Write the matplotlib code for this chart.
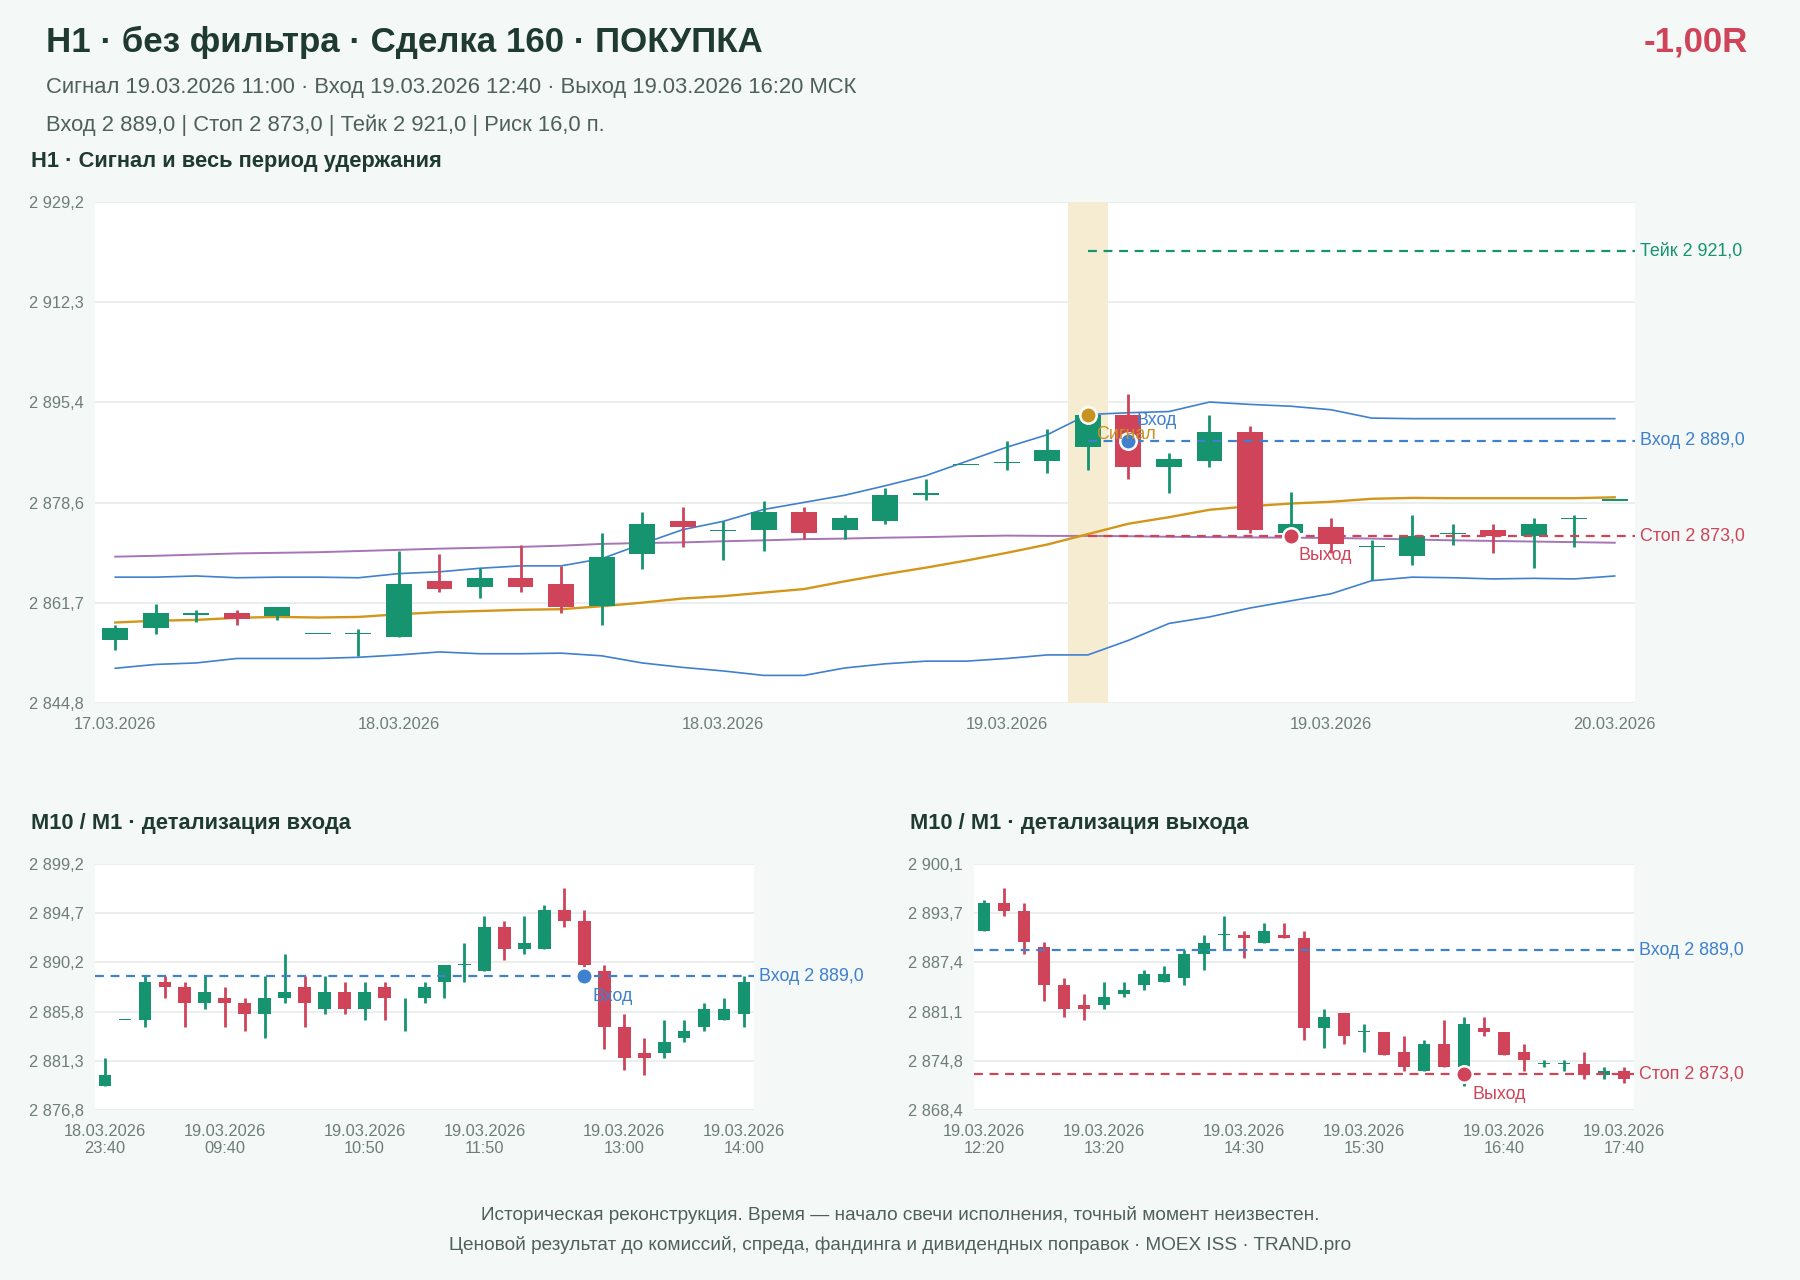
import matplotlib.pyplot as plt
import numpy as np

plt.rcParams['font.family'] = ['Liberation Sans', 'DejaVu Sans']

# ---- H1: signal and holding period ----
h1_open = [2855.4, 2857.5, 2859.6, 2859.9, 2859.4, 2856.4, 2856.4, 2856.0, 2865.4, 2864.4,
           2865.9, 2864.9, 2861.1, 2869.9, 2875.4, 2873.7, 2874.0, 2876.9, 2873.9, 2875.4,
           2879.9, 2884.9, 2885.2, 2885.5, 2888.0, 2893.4, 2884.6, 2885.5, 2890.4, 2873.4,
           2874.5, 2871.0, 2869.5, 2873.2, 2873.9, 2873.0, 2875.8, 2878.9]
h1_high = [2857.9, 2861.4, 2860.4, 2860.4, 2861.0, 2856.4, 2857.3, 2870.4, 2869.9, 2867.5,
           2871.5, 2867.9, 2873.4, 2876.9, 2877.9, 2875.4, 2878.9, 2877.9, 2876.4, 2881.0,
           2882.5, 2884.9, 2888.9, 2891.0, 2893.4, 2896.9, 2887.0, 2893.4, 2891.4, 2880.4,
           2876.0, 2872.2, 2876.4, 2874.9, 2874.9, 2876.0, 2876.5, 2878.9]
h1_low = [2853.8, 2856.4, 2858.4, 2857.9, 2858.8, 2856.4, 2852.8, 2856.0, 2863.5, 2862.5,
          2863.5, 2860.0, 2857.9, 2867.4, 2871.0, 2868.9, 2870.4, 2872.5, 2872.5, 2874.9,
          2879.0, 2884.9, 2884.0, 2883.5, 2884.0, 2882.5, 2880.1, 2884.6, 2873.4, 2871.6,
          2870.1, 2865.6, 2868.0, 2871.5, 2870.1, 2867.5, 2871.0, 2878.9]
h1_close = [2857.5, 2859.9, 2859.9, 2859.0, 2861.0, 2856.4, 2856.4, 2864.9, 2864.0, 2865.9,
            2864.4, 2861.0, 2869.4, 2874.9, 2874.5, 2873.8, 2876.9, 2873.4, 2876.0, 2879.9,
            2880.0, 2884.9, 2885.3, 2887.4, 2893.4, 2884.6, 2885.9, 2890.4, 2874.0, 2874.9,
            2871.6, 2871.0, 2873.0, 2873.3, 2873.0, 2874.9, 2875.9, 2878.9]
bb_upper = [2866.0, 2866.0, 2866.2, 2865.9, 2866.0, 2866.0, 2865.9, 2866.6, 2866.9, 2867.5,
            2867.9, 2867.9, 2869.1, 2871.6, 2874.0, 2875.4, 2877.4, 2878.6, 2879.8, 2881.4,
            2883.1, 2885.5, 2887.9, 2890.0, 2893.4, 2893.7, 2893.9, 2895.5, 2895.1, 2894.8,
            2894.2, 2892.8, 2892.7, 2892.7, 2892.7, 2892.7, 2892.7, 2892.7]
bb_lower = [2850.65, 2851.3, 2851.55, 2852.3, 2852.3, 2852.3, 2852.5, 2852.9, 2853.4, 2853.1,
            2853.1, 2853.2, 2852.75, 2851.55, 2850.8, 2850.2, 2849.45, 2849.45, 2850.7, 2851.4,
            2851.85, 2851.85, 2852.3, 2852.9, 2852.9, 2855.35, 2858.2, 2859.3, 2860.8, 2862.0,
            2863.2, 2865.4, 2866.0, 2865.9, 2865.7, 2865.8, 2865.7, 2866.2]
ma_slow = [2869.45, 2869.6, 2869.8, 2870.0, 2870.1, 2870.2, 2870.4, 2870.6, 2870.8, 2870.95,
           2871.1, 2871.3, 2871.6, 2871.75, 2871.85, 2872.05, 2872.2, 2872.4, 2872.5, 2872.65,
           2872.75, 2872.9, 2873.0, 2872.95, 2872.95, 2872.9, 2872.8, 2872.75, 2872.7, 2872.65,
           2872.6, 2872.5, 2872.35, 2872.2, 2872.1, 2872.0, 2871.9, 2871.8]
ma_fast = [2858.36, 2858.66, 2858.8, 2859.15, 2859.3, 2859.2, 2859.3, 2859.75, 2860.1, 2860.3,
           2860.5, 2860.6, 2861.1, 2861.7, 2862.4, 2862.8, 2863.4, 2864.0, 2865.3, 2866.5,
           2867.6, 2868.8, 2870.1, 2871.5, 2873.25, 2875.0, 2876.1, 2877.35, 2877.95, 2878.4,
           2878.7, 2879.2, 2879.35, 2879.3, 2879.3, 2879.3, 2879.3, 2879.45]
h1_tick_pos = [0, 7, 15, 22, 30, 37]
h1_tick_labels = ['17.03.2026', '18.03.2026', '18.03.2026', '19.03.2026', '19.03.2026', '20.03.2026']
h1_signal_idx = 24
h1_entry_idx = 25
h1_exit_idx = 29

entry_price = 2889.0
stop_price = 2873.0
take_price = 2921.0
signal_price = 2893.4

# ---- M10: entry detail ----
en_open = [2879.0, 2885.0, 2885.0, 2888.5, 2888.0, 2886.5, 2887.0, 2886.5, 2885.5, 2887.0,
           2888.0, 2886.0, 2887.5, 2886.0, 2888.0, 2886.5, 2887.0, 2888.5, 2890.0, 2889.5,
           2893.5, 2891.5, 2891.5, 2895.0, 2894.0, 2889.5, 2884.4, 2882.0, 2882.0, 2883.4,
           2884.4, 2885.0, 2885.5]
en_high = [2881.5, 2885.0, 2889.0, 2889.0, 2888.5, 2889.0, 2888.0, 2887.0, 2889.0, 2891.0,
           2889.0, 2889.0, 2888.5, 2888.5, 2888.5, 2887.0, 2888.5, 2890.0, 2892.0, 2894.5,
           2894.0, 2894.5, 2895.5, 2897.0, 2895.0, 2890.0, 2885.5, 2883.4, 2885.0, 2885.0,
           2886.5, 2887.0, 2889.0]
en_low = [2879.0, 2885.0, 2884.4, 2887.0, 2884.4, 2886.0, 2884.4, 2884.0, 2883.4, 2886.5,
          2884.4, 2885.5, 2885.5, 2885.0, 2885.0, 2884.0, 2886.5, 2887.0, 2888.5, 2889.5,
          2890.5, 2891.0, 2891.5, 2893.5, 2889.7, 2882.4, 2880.4, 2880.0, 2881.5, 2883.0,
          2884.0, 2885.0, 2884.4]
en_close = [2880.0, 2885.0, 2888.5, 2888.0, 2886.5, 2887.5, 2886.5, 2885.5, 2887.0, 2887.5,
            2886.5, 2887.5, 2886.0, 2887.5, 2887.0, 2886.5, 2888.0, 2890.0, 2890.05, 2893.5,
            2891.5, 2892.0, 2895.0, 2894.0, 2890.0, 2884.4, 2881.5, 2881.5, 2883.0, 2884.0,
            2886.0, 2886.0, 2888.5]
en_tick_pos = [0, 6, 13, 19, 26, 32]
en_tick_labels = ['18.03.2026\n23:40', '19.03.2026\n09:40', '19.03.2026\n10:50',
                  '19.03.2026\n11:50', '19.03.2026\n13:00', '19.03.2026\n14:00']
en_entry_idx = 24

# ---- M10: exit detail ----
ex_open = [2891.5, 2895.0, 2894.0, 2889.45, 2884.5, 2881.9, 2881.9, 2883.4, 2884.5, 2884.9,
           2885.45, 2888.5, 2890.95, 2890.95, 2889.95, 2890.95, 2890.5, 2878.95, 2880.95, 2878.45,
           2878.45, 2875.9, 2873.4, 2876.9, 2873.95, 2878.95, 2878.45, 2875.9, 2874.4, 2874.4,
           2874.4, 2872.95, 2873.4]
ex_high = [2895.5, 2897.0, 2895.0, 2890.0, 2885.4, 2883.4, 2884.9, 2884.9, 2886.45, 2886.9,
           2888.95, 2890.95, 2893.45, 2891.5, 2892.45, 2892.45, 2891.5, 2881.45, 2880.95, 2879.45,
           2878.45, 2877.9, 2877.4, 2879.95, 2880.45, 2880.45, 2878.45, 2876.9, 2874.9, 2874.9,
           2875.9, 2873.95, 2873.95]
ex_low = [2891.5, 2893.45, 2888.5, 2882.4, 2880.45, 2879.95, 2881.45, 2882.95, 2883.9, 2884.9,
          2884.5, 2886.45, 2889.0, 2887.95, 2889.95, 2890.5, 2877.4, 2876.4, 2876.9, 2875.9,
          2875.45, 2873.4, 2873.4, 2873.95, 2871.5, 2877.9, 2875.45, 2873.4, 2873.95, 2873.4,
          2872.45, 2872.45, 2871.9]
ex_close = [2895.0, 2894.0, 2890.0, 2884.5, 2881.45, 2881.45, 2882.95, 2883.9, 2885.95, 2885.95,
            2888.5, 2889.95, 2890.95, 2890.5, 2891.5, 2890.5, 2878.95, 2880.45, 2877.9, 2878.45,
            2875.45, 2873.95, 2876.9, 2873.95, 2879.45, 2878.45, 2875.45, 2874.9, 2874.45, 2874.45,
            2872.95, 2873.4, 2872.45]
ex_tick_pos = [0, 6, 13, 19, 26, 32]
ex_tick_labels = ['19.03.2026\n12:20', '19.03.2026\n13:20', '19.03.2026\n14:30',
                  '19.03.2026\n15:30', '19.03.2026\n16:40', '19.03.2026\n17:40']
ex_exit_idx = 24

BG = '#f4f8f6'
GREEN = '#15946f'
RED = '#cf4459'
BLUE = '#3f80cf'
ORANGE = '#d4961a'
GOLD = '#c99322'
PURPLE = '#a575b5'
BAND = '#f6ecd2'
TITLE = '#1f3a30'
SUB = '#4f605a'
TICK = '#6f7d78'
GRID = '#e6ecea'

W, H = 1800, 1280


def fmt_price(v):
    return f"{v:,.1f}".replace(",", " ").replace(".", ",")


def px_axes(fig, left, top, right, bottom):
    return fig.add_axes([left / W, 1 - bottom / H, (right - left) / W, (bottom - top) / H])


def style_axes(ax, lo, hi, n, ticks_pos, ticks_lab):
    ax.set_facecolor('white')
    for s in ax.spines.values():
        s.set_visible(False)
    yt = np.linspace(lo, hi, 6)
    ax.set_yticks(yt)
    ax.set_yticklabels([fmt_price(t) for t in yt])
    ax.set_ylim(lo, hi)
    ax.set_xlim(-0.5, n - 0.5)
    ax.set_xticks(ticks_pos)
    ax.set_xticklabels(ticks_lab)
    ax.grid(axis='y', color=GRID, linewidth=1.2)
    ax.set_axisbelow(True)
    ax.tick_params(length=0, colors=TICK, labelsize=11.8, pad=8)
    ax.tick_params(axis='x', pad=10)


def draw_candles(ax, o, h, l, c, width=0.64):
    o, h, l, c = map(np.asarray, (o, h, l, c))
    x = np.arange(len(o))
    up = c >= o
    colors = np.where(up, GREEN, RED)
    lo, hi = ax.get_ylim()
    min_h = (hi - lo) * 0.0025
    ax.vlines(x, l, h, colors=colors, linewidth=2.0, zorder=3)
    ax.bar(x, np.maximum(np.abs(c - o), min_h), width, bottom=np.minimum(o, c),
           color=colors, linewidth=0, zorder=4)


def level(ax, y, color, text, x0=None, lw=1.6):
    if x0 is None:
        ax.axhline(y, color=color, linestyle=(0, (4, 3)), linewidth=lw, zorder=5)
    else:
        ax.hlines(y, x0, ax.get_xlim()[1], color=color, linestyle=(0, (4, 3)), linewidth=lw, zorder=5)
    ax.annotate(text, xy=(1, y), xycoords=('axes fraction', 'data'), xytext=(5, 0),
                textcoords='offset pixels', ha='left', va='center', color=color, fontsize=12.9,
                annotation_clip=False)


def dot(ax, x, y, color, text, dy):
    ax.scatter([x], [y], s=140, color=color, edgecolor='white', linewidth=1.8, zorder=8)
    ax.annotate(text, xy=(x, y), xytext=(8, dy), textcoords='offset pixels', ha='left',
                va='center', color=color, fontsize=12.9, zorder=9)


fig = plt.figure(figsize=(W / 100, H / 100), dpi=100)
fig.patch.set_facecolor(BG)

# header
fig.text(46 / W, 1 - 42 / H, 'H1 · без фильтра · Сделка 160 · ПОКУПКА', fontsize=25.1,
         fontweight='bold', color=TITLE, va='center', ha='left')
fig.text(1748 / W, 1 - 42 / H, '-1,00R', fontsize=25, fontweight='bold', color=RED,
         va='center', ha='right')
fig.text(46 / W, 1 - 88 / H,
         'Сигнал 19.03.2026 11:00 · Вход 19.03.2026 12:40 · Выход 19.03.2026 16:20 МСК',
         fontsize=15.8, color=SUB, va='center', ha='left')
fig.text(46 / W, 1 - 125 / H, 'Вход 2 889,0 | Стоп 2 873,0 | Тейк 2 921,0 | Риск 16,0 п.',
         fontsize=15.8, color=SUB, va='center', ha='left')
fig.text(31 / W, 1 - 162 / H, 'H1 · Сигнал и весь период удержания', fontsize=15.75,
         fontweight='bold', color=TITLE, va='center', ha='left')
fig.text(31 / W, 1 - 824 / H, 'M10 / M1 · детализация входа', fontsize=15.75,
         fontweight='bold', color=TITLE, va='center', ha='left')
fig.text(910 / W, 1 - 824 / H, 'M10 / M1 · детализация выхода', fontsize=15.75,
         fontweight='bold', color=TITLE, va='center', ha='left')

# main H1 chart
ax = px_axes(fig, 95, 202, 1635, 703)
n = len(h1_open)
style_axes(ax, 2844.8, 2929.2, n, h1_tick_pos, h1_tick_labels)
ax.axvspan(h1_signal_idx - 0.5, h1_signal_idx + 0.5, color=BAND, zorder=1, linewidth=0)
x = np.arange(n)
ax.plot(x, bb_upper, color=BLUE, linewidth=1.2, zorder=2)
ax.plot(x, bb_lower, color=BLUE, linewidth=1.2, zorder=2)
ax.plot(x, ma_slow, color=PURPLE, linewidth=1.4, zorder=2)
ax.plot(x, ma_fast, color=ORANGE, linewidth=1.7, zorder=2)
draw_candles(ax, h1_open, h1_high, h1_low, h1_close)
level(ax, take_price, GREEN, 'Тейк 2 921,0', x0=h1_signal_idx)
level(ax, entry_price, BLUE, 'Вход 2 889,0', x0=h1_signal_idx)
level(ax, stop_price, RED, 'Стоп 2 873,0', x0=h1_signal_idx)
dot(ax, h1_signal_idx, signal_price, GOLD, 'Сигнал', -20)
dot(ax, h1_entry_idx, entry_price, BLUE, 'Вход', 20)
dot(ax, h1_exit_idx, stop_price, RED, 'Выход', -20)

# entry detail
ax2 = px_axes(fig, 95, 864, 754, 1110)
style_axes(ax2, 2876.8, 2899.2, len(en_open), en_tick_pos, en_tick_labels)
draw_candles(ax2, en_open, en_high, en_low, en_close)
level(ax2, entry_price, BLUE, 'Вход 2 889,0')
dot(ax2, en_entry_idx, entry_price, BLUE, 'Вход', -20)

# exit detail
ax3 = px_axes(fig, 974, 864, 1634, 1110)
style_axes(ax3, 2868.42, 2900.08, len(ex_open), ex_tick_pos, ex_tick_labels)
draw_candles(ax3, ex_open, ex_high, ex_low, ex_close)
level(ax3, entry_price, BLUE, 'Вход 2 889,0')
level(ax3, stop_price, RED, 'Стоп 2 873,0')
dot(ax3, ex_exit_idx, stop_price, RED, 'Выход', -20)

# footer
fig.text(0.5, 1 - 1215 / H,
         'Историческая реконструкция. Время — начало свечи исполнения, точный момент неизвестен.',
         fontsize=13.7, color=SUB, ha='center', va='center')
fig.text(0.5, 1 - 1245 / H,
         'Ценовой результат до комиссий, спреда, фандинга и дивидендных поправок · MOEX ISS · TRAND.pro',
         fontsize=13.7, color=SUB, ha='center', va='center')

fig.savefig('out.png', dpi=100, facecolor=BG)
